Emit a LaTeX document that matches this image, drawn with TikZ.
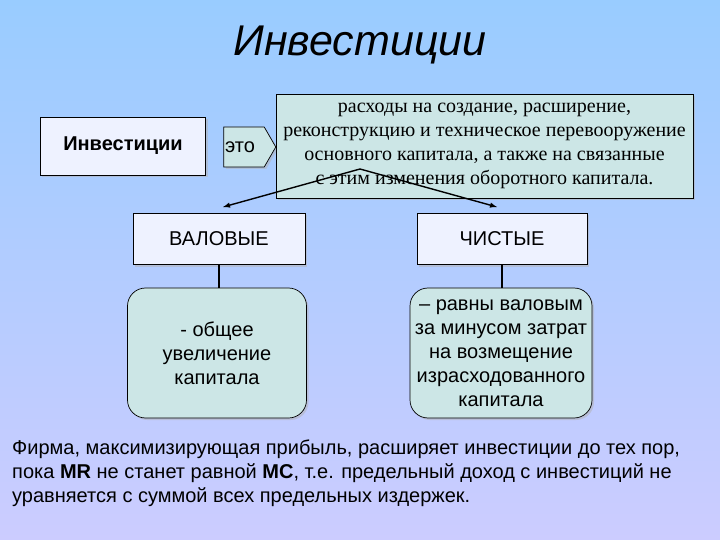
\documentclass[tikz,border=0pt]{standalone}
\usepackage{fontspec}
\setmainfont{Liberation Sans}
\newfontfamily\serifru{Liberation Serif}
\usetikzlibrary{shapes.arrows,shadows}
\definecolor{teal1}{HTML}{CCE6E6}
\definecolor{pale}{HTML}{EEF2FF}
\definecolor{bgtop}{HTML}{99CCFF}
\definecolor{bgbot}{HTML}{CCCCFF}
\begin{document}
\begin{tikzpicture}[x=1bp,y=-1bp,
  box/.style={draw=black,line width=0.7bp,drop shadow={shadow xshift=2bp,shadow yshift=-2bp,fill=gray!60}},
  conn/.style={line width=1.4bp,draw=black}]
\useasboundingbox (0,0) rectangle (720,540);
\shade[top color=bgtop,bottom color=bgbot] (0,0) rectangle (720,540);
\node (title) at (360,45) {\fontsize{43bp}{46bp}\selectfont\itshape Инвестиции};
\node[box,fill=pale,minimum width=165bp,minimum height=58bp] (inv) at (123,146) {\fontsize{20bp}{22bp}\selectfont\bfseries Инвестиции};
\node[box,fill=teal1,single arrow,single arrow head extend=0pt,single arrow tip angle=120,shape border uses incircle=false,minimum height=52bp,minimum width=40bp,inner sep=2bp] (eto) at (244,147) {};
\node at (240,147) {\fontsize{20bp}{22bp}\selectfont это};
\node[box,fill=teal1,minimum width=417bp,minimum height=104bp,align=center,font=\serifru\fontsize{20bp}{24bp}\selectfont] (def) at (484.5,146) {расходы на создание, расширение,\\реконструкцию и техническое перевооружение\\основного капитала, а также на связанные\\с этим изменения оборотного капитала.};
\coordinate (apex) at (360,169);
\node[box,fill=pale,minimum width=172bp,minimum height=51bp] (val) at (219,239) {\fontsize{20bp}{22bp}\selectfont ВАЛОВЫЕ};
\node[box,fill=pale,minimum width=170bp,minimum height=51bp] (chi) at (502,239) {\fontsize{20bp}{22bp}\selectfont ЧИСТЫЕ};
\draw[conn,-latex] (apex) -- (223,207);
\draw[conn,-latex] (apex) -- (497,207);
\node[box,fill=teal1,rounded corners=18bp,minimum width=179bp,minimum height=130bp,align=center,font=\fontsize{20bp}{24bp}\selectfont] (vald) at (217,353) {- общее\\увеличение\\капитала};
\node[box,fill=teal1,rounded corners=18bp,minimum width=182bp,minimum height=130bp,align=center,font=\fontsize{20bp}{24bp}\selectfont] (chid) at (501,353) {– равны валовым\\за минусом затрат\\на возмещение\\израсходованного\\капитала};
\draw[conn] (val.south) -- (val.south |- vald.north);
\draw[conn] (chi.south) -- (chi.south |- chid.north);
\node[anchor=north west,align=left,font=\fontsize{20bp}{24bp}\selectfont,inner sep=0pt] (txt) at (12,440) {Фирма, максимизирующая прибыль, расширяет инвестиции до тех пор,\\пока \textbf{MR} не станет равной \textbf{MC}, т.е. предельный доход с инвестиций не\\уравняется с суммой всех предельных издержек.};
\end{tikzpicture}
\end{document}
